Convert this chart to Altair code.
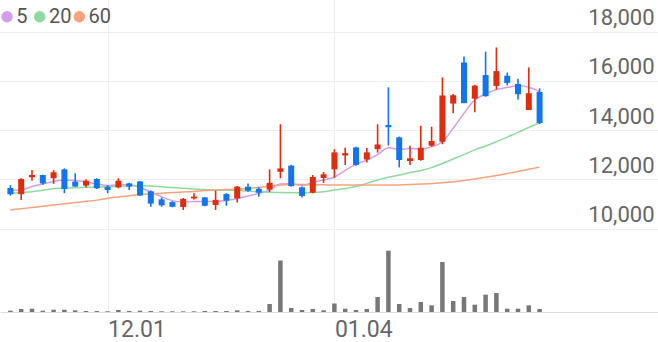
import altair as alt
import pandas as pd

# ---- data ----
days = list(range(50))
opens = [11650, 11400, 12090, 12180, 12050, 12410, 11910, 11750, 12020, 11700,
         11680, 11840, 11920, 11520, 11190, 11080, 10880, 11230, 11270, 10960,
         11410, 11230, 11700, 11620, 11590, 12310, 12560, 11680, 11460, 12060,
         12410, 12970, 13300, 12810, 13230, 14210, 13710, 12750, 12790, 13370,
         13530, 15080, 16750, 15280, 16240, 15800, 16210, 15880, 14820, 15550]
highs = [11770, 12050, 12380, 12190, 12380, 12450, 12250, 12010, 12050, 11770,
         12050, 11870, 11930, 11550, 11260, 11120, 11250, 11440, 11290, 11540,
         11440, 11730, 11840, 11680, 12410, 14240, 12590, 11710, 12180, 12300,
         13230, 13290, 13330, 13280, 14240, 15740, 13740, 13370, 14180, 14140,
         16140, 15470, 16990, 15840, 17190, 17360, 16340, 16090, 16550, 15700]
lows = [11340, 11170, 11950, 11780, 11820, 11440, 11700, 11680, 11610, 11440,
        11640, 11570, 11330, 10890, 10890, 10870, 10760, 11190, 10910, 10760,
        10930, 11060, 11500, 11300, 11490, 12050, 11710, 11270, 11440, 11860,
        12060, 12590, 12560, 12690, 13090, 13380, 12490, 12590, 12760, 13330,
        13430, 14690, 15090, 14730, 15360, 15650, 15820, 15250, 14820, 14250]
closes = [11400, 12020, 12180, 11840, 12290, 11610, 11710, 11950, 11640, 11570,
          11950, 11710, 11350, 11020, 10950, 10890, 11210, 11300, 10930, 11170,
          11140, 11710, 11540, 11460, 11860, 12450, 11730, 11330, 12100, 12210,
          13100, 13070, 12590, 13100, 13420, 14120, 12790, 12860, 13290, 13560,
          15410, 15420, 15100, 15810, 15380, 16400, 15920, 15460, 15500, 14290]
volumes = [130000, 300000, 330000, 130000, 230000, 230000, 170000, 100000, 100000, 70000,
           200000, 100000, 130000, 100000, 70000, 70000, 70000, 70000, 100000, 100000,
           100000, 170000, 100000, 100000, 800000, 5150000, 400000, 200000, 300000, 170000,
           850000, 330000, 200000, 300000, 1500000, 6130000, 800000, 400000, 1000000, 670000,
           5000000, 1100000, 1500000, 730000, 1730000, 1900000, 330000, 330000, 670000, 300000]
ma5 = [11550, 11570, 11710, 11820, 11920, 11980, 11960, 11900, 11820, 11750,
       11780, 11780, 11670, 11490, 11300, 11140, 11090, 11100, 11100, 11100,
       11150, 11220, 11330, 11430, 11570, 11820, 11840, 11750, 11880, 11980,
       12090, 12370, 12610, 12790, 13010, 13290, 13220, 13260, 13240, 13330,
       13530, 14080, 14690, 15230, 15470, 15650, 15740, 15800, 15740, 15560]
ma20 = [11440, 11470, 11500, 11560, 11620, 11650, 11660, 11680, 11690, 11700,
        11720, 11740, 11750, 11730, 11700, 11670, 11640, 11610, 11590, 11570,
        11560, 11550, 11530, 11500, 11480, 11470, 11460, 11460, 11470, 11500,
        11570, 11630, 11710, 11840, 11980, 12090, 12180, 12280, 12360, 12480,
        12650, 12830, 13010, 13200, 13360, 13530, 13720, 13910, 14110, 14290]
ma60 = [10760, 10810, 10860, 10910, 10960, 11010, 11060, 11110, 11160, 11240,
        11290, 11340, 11390, 11420, 11440, 11470, 11490, 11510, 11550, 11570,
        11590, 11610, 11640, 11680, 11720, 11770, 11790, 11790, 11780, 11780,
        11770, 11770, 11770, 11770, 11770, 11770, 11775, 11790, 11810, 11840,
        11870, 11910, 11960, 12020, 12090, 12160, 12240, 12320, 12410, 12500]
ma_names = ["5", "20", "60"]
ma_colors = ["#d69cf0", "#8edb9e", "#f6a27c"]
price_ticks = [10000, 12000, 14000, 16000, 18000]
x_tick_days = [9, 30]
x_tick_labels = ["12.01", "01.04"]
n_slots = 60

UP = "#e12d0e"
DOWN = "#1174f0"
FONT = "Roboto"

# legend layout (pixels)
LEG_DOT_X = [7, 39.7, 79.3]
LEG_TEXT_X = [16.3, 49, 88.4]
LEG_Y = 16.8

candles = pd.DataFrame({"day": days, "open": opens, "high": highs, "low": lows,
                        "close": closes, "volume": volumes})
ma_df = pd.concat([pd.DataFrame({"day": days, "ma": vals, "period": name})
                   for name, vals in zip(ma_names, [ma5, ma20, ma60])], ignore_index=True)

label_expr = " : ".join(f"datum.value == {d} ? '{l}'" for d, l in zip(x_tick_days, x_tick_labels)) + " : ''"

x_scale = alt.Scale(domain=[-0.5, n_slots - 0.5], nice=False, zero=False)
PRICE_DOMAIN = [6617, 19287]
vol_scale = alt.Scale(domain=[0, 31200000], nice=False)


def pscale():
    return alt.Scale(domain=PRICE_DOMAIN, nice=False, zero=False)


x_axis = alt.Axis(values=x_tick_days, labelExpr=label_expr, grid=True, gridColor="#eeeeee",
                  ticks=False, domain=True, domainColor="#dddddd", labelAlign="left",
                  labelFontSize=23, labelFont=FONT, labelColor="#666666",
                  labelPadding=6, title=None, labelFlush=False)
x_enc = alt.X("day:Q", scale=x_scale, axis=x_axis)

y_axis = alt.Axis(values=price_ticks, grid=True, gridColor="#eeeeee", orient="right",
                  ticks=False, domain=False, labelAlign="right", labelBaseline="alphabetic",
                  labelPadding=-4, labelOffset=-7, labelFontSize=22, labelFont=FONT,
                  labelColor="#666666",
                  labelExpr="format(datum.value, ',d')", title=None,
                  labelFlush=False, labelOverlap=False)

up_cond = alt.condition("datum.close >= datum.open", alt.value(UP), alt.value(DOWN))

volume_bars = alt.Chart(candles).mark_bar(size=4.5, color="#777777").encode(
    x=x_enc,
    y=alt.Y("volume:Q", scale=vol_scale, axis=None),
)

ma_lines = [
    alt.Chart(ma_df).transform_filter(alt.datum.period == name)
    .mark_line(strokeWidth=1.5, interpolate="monotone", color=col)
    .encode(x=x_enc, y=alt.Y("ma:Q", scale=pscale(), axis=None))
    for name, col in zip(ma_names, ma_colors)
]

legend_layers = []
for name, col, dx, tx in zip(ma_names, ma_colors, LEG_DOT_X, LEG_TEXT_X):
    item = pd.DataFrame({"label": [name]})
    legend_layers.append(
        alt.Chart(item).mark_circle(size=130, color=col, opacity=1).encode(
            x=alt.value(dx), y=alt.value(LEG_Y))
    )
    legend_layers.append(
        alt.Chart(item).mark_text(align="left", baseline="middle", fontSize=20, font=FONT,
                                  color="#555555").encode(
            x=alt.value(tx), y=alt.value(LEG_Y), text="label:N")
    )

wicks = alt.Chart(candles).mark_rule(strokeWidth=1.6).encode(
    x=x_enc,
    y=alt.Y("low:Q", scale=pscale(), axis=y_axis),
    y2="high:Q",
    color=up_cond,
)

bodies = alt.Chart(candles).mark_bar(size=6).encode(
    x=x_enc,
    y=alt.Y("open:Q", scale=pscale(), axis=None),
    y2="close:Q",
    color=up_cond,
)

chart = alt.layer(volume_bars, *ma_lines, wicks, bodies, *legend_layers).resolve_scale(
    y="independent"
).properties(
    width=658, height=312, padding=0, background="white"
).configure_view(stroke=None)

chart.save("out.html", embed_options={"renderer": "svg", "actions": False})
